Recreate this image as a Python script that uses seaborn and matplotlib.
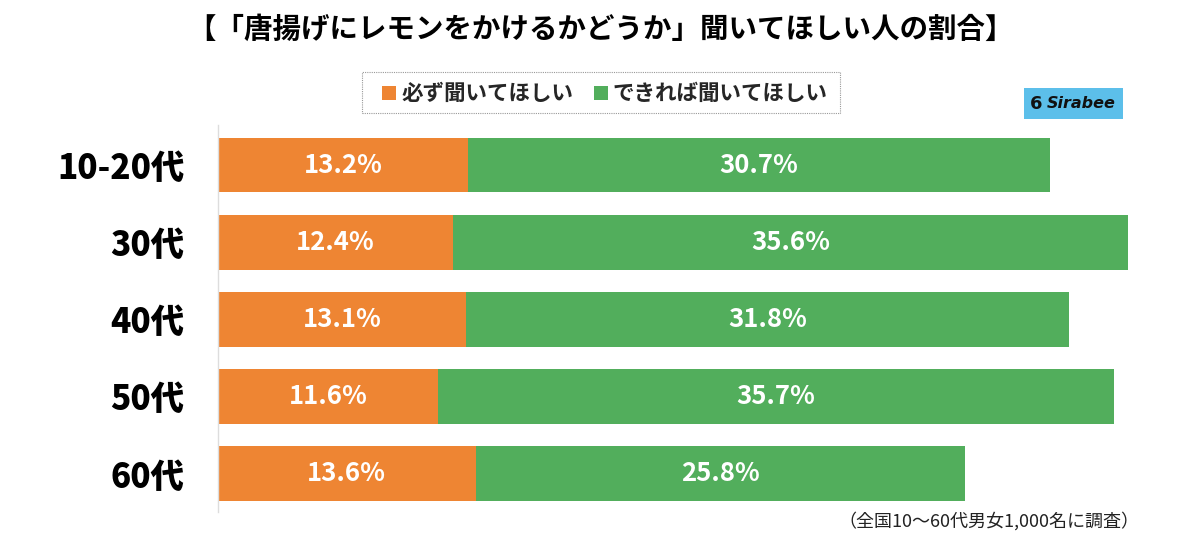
import matplotlib
matplotlib.use("Agg")
import matplotlib.pyplot as plt
import seaborn as sns
import pandas as pd
from matplotlib.patches import Rectangle

categories = ["10-20代", "30代", "40代", "50代", "60代"]
must = [13.2, 12.4, 13.1, 11.6, 13.6]
ifpossible = [30.7, 35.6, 31.8, 35.7, 25.8]
series_names = ["必ず聞いてほしい", "できれば聞いてほしい"]
title = "【「唐揚げにレモンをかけるかどうか」聞いてほしい人の割合】"
footnote = "（全国10〜60代男女1,000名に調査）"

ORANGE = "#EE8533"
GREEN = "#52AE5C"

sns.set_theme(style="white")
plt.rcParams['font.family'] = ['Noto Sans CJK JP', 'DejaVu Sans']

df = pd.DataFrame({"cat": categories, "must": must, "ifp": ifpossible})
df["total"] = df["must"] + df["ifp"]

fig = plt.figure(figsize=(12, 5.43), dpi=100)
ax = fig.add_axes([218/1200, 1-512/543, (1140-218)/1200, (512-125)/543])

sns.barplot(data=df, x="total", y="cat", color=GREEN, width=0.71, saturation=1, ax=ax,
            orient="h", linewidth=0)
sns.barplot(data=df, x="must", y="cat", color=ORANGE, width=0.71, saturation=1, ax=ax,
            orient="h", linewidth=0)

for i, (m, p) in enumerate(zip(must, ifpossible)):
    ax.text(m/2, i, f"{m:.1f}%", ha="center", va="center", color="white",
            fontsize=18.5, fontweight="bold")
    ax.text(m + p/2, i, f"{p:.1f}%", ha="center", va="center", color="white",
            fontsize=18.5, fontweight="bold")

ax.set_xlim(0, 48.65)
ax.set_ylim(4.5, -0.52)
ax.set_xlabel("")
ax.set_ylabel("")
ax.set_xticks([])
ax.tick_params(axis="y", length=0, pad=24)
for lbl in ax.get_yticklabels():
    lbl.set_fontsize(24)
    lbl.set_fontweight("black")
    lbl.set_color("black")
for s in ["top", "right", "bottom"]:
    ax.spines[s].set_visible(False)
ax.spines["left"].set_color("#dddddd")
ax.spines["left"].set_linewidth(1)

fig.text(0.5, 1-30/543, title, ha="center", va="center", fontsize=20.5, fontweight="bold", color="black")

# legend box
fig.patches.append(Rectangle((362/1200, 1-113/543), (840-362)/1200, 41/543, transform=fig.transFigure,
                             fill=False, edgecolor="#999999", linestyle=(0, (1, 1)), linewidth=0.8))
fig.patches.append(Rectangle((382/1200, 1-100/543), 14/1200, 14/543, transform=fig.transFigure,
                             facecolor=ORANGE, edgecolor="none"))
fig.text(401/1200, 1-93/543, series_names[0], ha="left", va="center", fontsize=15.5, fontweight="bold")
fig.patches.append(Rectangle((594/1200, 1-100/543), 14/1200, 14/543, transform=fig.transFigure,
                             facecolor=GREEN, edgecolor="none"))
fig.text(612/1200, 1-93/543, series_names[1], ha="left", va="center", fontsize=15.5, fontweight="bold")

# logo
fig.patches.append(Rectangle((1024/1200, 1-119/543), 99/1200, 31/543, transform=fig.transFigure,
                             facecolor="#5CBFEA", edgecolor="none"))
fig.text(1030/1200, 1-104/543, "6", ha="left", va="center", fontsize=13,
         fontweight="bold", color="#111111", family="DejaVu Sans")
fig.text(1047/1200, 1-104/543, "Sirabee", ha="left", va="center", fontsize=11.5,
         fontweight="bold", style="italic", color="#111111", family="DejaVu Sans")

fig.text(989/1200, 1-521/543, footnote, ha="center", va="center", fontsize=13, color="#222222")

fig.savefig("out.png", dpi=100)
